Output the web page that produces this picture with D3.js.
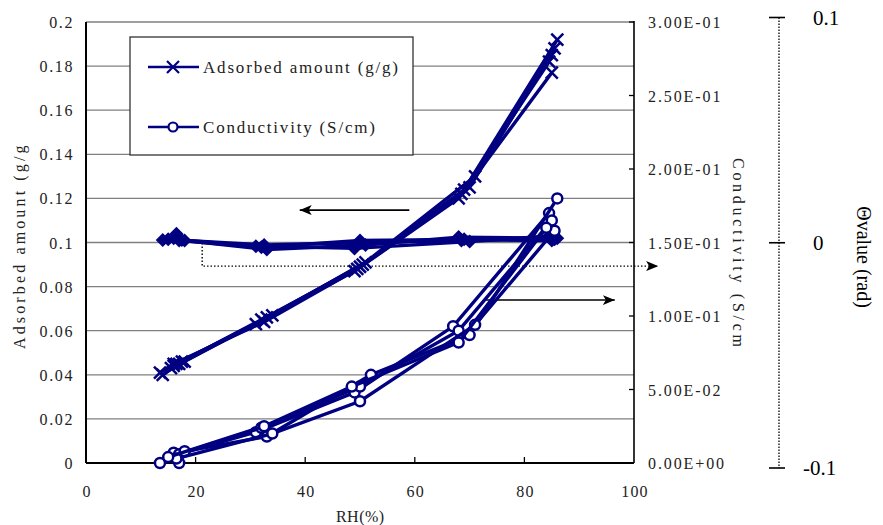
<!DOCTYPE html>
<html><head><meta charset="utf-8">
<script src="https://cdn.jsdelivr.net/npm/d3@7"></script>
<style>body{margin:0;background:#fff}svg{display:block}</style>
</head><body>
<svg id="c" width="883" height="525"></svg>
<script>
// ---- data ----
const rhTicks = [0, 20, 40, 60, 80, 100];
const leftTicks = [0, 0.02, 0.04, 0.06, 0.08, 0.1, 0.12, 0.14, 0.16, 0.18, 0.2];
const leftTickLabels = ["0", "0.02", "0.04", "0.06", "0.08", "0.1", "0.12", "0.14", "0.16", "0.18", "0.2"];
const rightTicks = [0, 0.05, 0.1, 0.15, 0.2, 0.25, 0.3];
const rightTickLabels = ["0.00E+00", "5.00E-02", "1.00E-01", "1.50E-01", "2.00E-01", "2.50E-01", "3.00E-01"];
const thetaTicks = [-0.1, 0, 0.1];
const thetaTickLabels = ["-0.1", "0", "0.1"];

// Adsorbed amount (g/g), several runs
const adsorbedRH = [
  [14, 17, 31, 49, 68, 85],
  [16, 17.5, 32, 50, 69, 86],
  [15.5, 18, 33, 50.5, 70, 85.5],
  [16.5, 34, 51, 71, 85],
  [13.5, 16, 32.5, 49.5, 68.5, 84.5]
];
const adsorbedVal = [
  [0.040, 0.045, 0.063, 0.087, 0.120, 0.185],
  [0.044, 0.046, 0.065, 0.089, 0.124, 0.192],
  [0.043, 0.046, 0.066, 0.090, 0.125, 0.188],
  [0.045, 0.067, 0.091, 0.130, 0.177],
  [0.041, 0.045, 0.064, 0.088, 0.122, 0.182]
];
// Conductivity (S/cm), several runs
const condRH = [
  [13.5, 16, 31, 49, 67, 84.5],
  [16, 17, 32, 50, 68, 85],
  [17, 18, 33, 52, 70, 86],
  [16.5, 34, 50, 71, 85.5],
  [15, 32.5, 48.5, 68, 84]
];
const condVal = [
  [0.000, 0.005, 0.021, 0.048, 0.093, 0.170],
  [0.007, 0.006, 0.024, 0.052, 0.090, 0.165],
  [0.000, 0.008, 0.018, 0.060, 0.087, 0.180],
  [0.003, 0.020, 0.042, 0.094, 0.158],
  [0.004, 0.025, 0.052, 0.082, 0.160]
];
// Theta value (rad), several runs
const thetaRH = [
  [14, 17, 32, 50, 69, 85],
  [16, 18, 33, 51, 68, 86],
  [16.5, 17.5, 31, 49, 70, 84.5],
  [15, 32.5, 50, 68.5, 85.5]
];
const thetaVal = [
  [0.0012, 0.0010, -0.0020, 0.0010, 0.0015, 0.0010],
  [0.0020, 0.0010, -0.0030, -0.0010, 0.0025, 0.0020],
  [0.0040, 0.0012, -0.0015, -0.0025, 0.0005, 0.0030],
  [0.0015, -0.0010, 0.0000, 0.0010, 0.0015]
];
// annotation arrows (data units: RH, left-axis value)
const arrowLeftRH = [59, 39], arrowLeftY = 0.1147;
const arrowRightRH = [73, 96.5], arrowRightY = 0.0739;
const dottedRH = [21.2, 21.2, 104.4], dottedY = [0.0998, 0.0893, 0.0893];

const navy = "#000080";
const svg = d3.select("#c");
const x = d3.scaleLinear().domain([0, 100]).range([86, 634]);
const yL = d3.scaleLinear().domain([0, 0.2]).range([463, 22]);
const yR = d3.scaleLinear().domain([0, 0.3]).range([463, 22]);
const yT = d3.scaleLinear().domain([-0.1, 0.1]).range([468, 17.5]);

const defs = svg.append("defs");
defs.append("marker").attr("id", "ah").attr("viewBox", "0 0 12 10").attr("refX", 12).attr("refY", 5)
  .attr("markerWidth", 12).attr("markerHeight", 10).attr("markerUnits", "userSpaceOnUse").attr("orient", "auto")
  .append("path").attr("d", "M0,0L12,5L0,10L3,5Z").attr("fill", "#000");
defs.append("clipPath").attr("id", "clipL").append("rect").attr("x", 0).attr("y", 146).attr("width", 45).attr("height", 330);
defs.append("clipPath").attr("id", "clipR").append("rect").attr("x", 720).attr("y", 100).attr("width", 40).attr("height", 246);

// gridlines
svg.append("g").selectAll("line").data(leftTicks.filter(d => d > 0)).join("line")
  .attr("x1", x(0)).attr("x2", x(100)).attr("y1", d => yL(d)).attr("y2", d => yL(d))
  .attr("stroke", "#808080").attr("stroke-width", 1.3);

// axes lines
svg.append("line").attr("x1", x(0)).attr("x2", x(0)).attr("y1", yL(0.2)).attr("y2", yL(0)).attr("stroke", "#000").attr("stroke-width", 2);
svg.append("line").attr("x1", x(0)).attr("x2", x(100)).attr("y1", yL(0)).attr("y2", yL(0)).attr("stroke", "#000").attr("stroke-width", 2);
svg.append("line").attr("x1", x(100)).attr("x2", x(100)).attr("y1", yR(0.3) - 1).attr("y2", yR(0)).attr("stroke", "#000").attr("stroke-width", 1.6);

// x ticks inward
svg.append("g").selectAll("line").data(rhTicks.slice(1, -1)).join("line")
  .attr("x1", d => x(d)).attr("x2", d => x(d)).attr("y1", yL(0)).attr("y2", yL(0) - 6).attr("stroke", "#000").attr("stroke-width", 1.3);
// right ticks inward
svg.append("g").selectAll("line").data(rightTicks).join("line")
  .attr("x1", x(100) - 5).attr("x2", x(100)).attr("y1", d => yR(d)).attr("y2", d => yR(d)).attr("stroke", "#000").attr("stroke-width", 1.3);

const tickFont = "'Liberation Serif', 'Times New Roman', 'DejaVu Serif', serif";
// left tick labels
svg.append("g").selectAll("text").data(leftTicks).join("text")
  .attr("x", 74).attr("y", d => yL(d) + 6).attr("text-anchor", "end")
  .attr("font-family", tickFont).attr("font-size", 16).style("letter-spacing", "1.6px").attr("fill", "#222")
  .text((d, i) => leftTickLabels[i]);
// right tick labels
svg.append("g").selectAll("text").data(rightTicks).join("text")
  .attr("x", 648).attr("y", d => yR(d) + 6)
  .attr("font-family", tickFont).attr("font-size", 16).style("letter-spacing", "1.9px").attr("fill", "#222")
  .text((d, i) => rightTickLabels[i]);
// x tick labels
svg.append("g").selectAll("text").data(rhTicks).join("text")
  .attr("x", d => x(d) + 1).attr("y", 497).attr("text-anchor", "middle")
  .attr("font-family", tickFont).attr("font-size", 16).style("letter-spacing", "1.2px").attr("fill", "#222")
  .text(d => d);

// axis titles
svg.append("text").attr("x", x(50)).attr("y", 522).attr("text-anchor", "middle")
  .attr("font-family", tickFont).attr("font-size", 16).attr("fill", "#222")
  .attr("textLength", 48).attr("lengthAdjust", "spacing").text("RH(%)");
svg.append("g").attr("clip-path", "url(#clipL)")
  .append("g").attr("transform", "translate(25,243) rotate(-90)")
  .append("text").attr("text-anchor", "middle")
  .attr("font-family", tickFont).attr("font-size", 16).attr("fill", "#222")
  .attr("textLength", 212).attr("lengthAdjust", "spacing").text("Adsorbed amount (g/g)");
svg.append("g").attr("clip-path", "url(#clipR)")
  .append("g").attr("transform", "translate(733,158) rotate(90)")
  .append("text").attr("text-anchor", "start")
  .attr("font-family", tickFont).attr("font-size", 16).attr("fill", "#222")
  .attr("textLength", 198).attr("lengthAdjust", "spacing").text("Conductivity (S/cm)");

// theta axis
const tx = 779;
svg.append("line").attr("x1", tx).attr("x2", tx).attr("y1", yT(0.1)).attr("y2", yT(-0.1))
  .attr("stroke", "#000").attr("stroke-width", 1.3).attr("stroke-dasharray", "1.5,1.5");
svg.append("g").selectAll("line").data(thetaTicks).join("line")
  .attr("x1", tx - 10).attr("x2", tx + 6).attr("y1", d => yT(d)).attr("y2", d => yT(d)).attr("stroke", "#000").attr("stroke-width", 1.6);
svg.append("g").selectAll("text").data(thetaTicks).join("text")
  .attr("x", (d, i) => thetaTickLabels[i].startsWith("-") ? 803 : 813).attr("y", d => yT(d) + 7)
  .attr("font-family", tickFont).attr("font-size", 21).attr("fill", "#000")
  .text((d, i) => thetaTickLabels[i]);
svg.append("g").attr("transform", "translate(864,257) rotate(90)")
  .append("text").attr("text-anchor", "middle").attr("dy", "0.35em")
  .attr("font-family", tickFont).attr("font-size", 20).attr("fill", "#000").text("Θvalue (rad)");

// annotations
svg.append("line").attr("x1", x(arrowLeftRH[0])).attr("x2", x(arrowLeftRH[1]))
  .attr("y1", yL(arrowLeftY)).attr("y2", yL(arrowLeftY)).attr("stroke", "#000").attr("stroke-width", 1.6).attr("marker-end", "url(#ah)");
svg.append("line").attr("x1", x(arrowRightRH[0])).attr("x2", x(arrowRightRH[1]))
  .attr("y1", yL(arrowRightY)).attr("y2", yL(arrowRightY)).attr("stroke", "#000").attr("stroke-width", 1.6).attr("marker-end", "url(#ah)");
svg.append("path").attr("d", d3.line()(dottedRH.map((r, i) => [x(r), yL(dottedY[i])])))
  .attr("fill", "none").attr("stroke", "#000").attr("stroke-width", 1.4).attr("stroke-dasharray", "1.5,2").attr("marker-end", "url(#ah)");

// series
const lineGen = d3.line();
const lw = 3.4;
// theta (diamonds)
thetaRH.forEach((rhs, k) => {
  const pts = rhs.map((r, i) => [x(r), yT(thetaVal[k][i])]);
  svg.append("path").attr("d", lineGen(pts)).attr("fill", "none").attr("stroke", navy).attr("stroke-width", lw);
  svg.append("g").selectAll("path").data(pts).join("path")
    .attr("d", d => `M${d[0]},${d[1] - 7}L${d[0] + 7},${d[1]}L${d[0]},${d[1] + 7}L${d[0] - 7},${d[1]}Z`)
    .attr("fill", navy);
});
// adsorbed (x markers)
adsorbedRH.forEach((rhs, k) => {
  const pts = rhs.map((r, i) => [x(r), yL(adsorbedVal[k][i])]);
  svg.append("path").attr("d", lineGen(pts)).attr("fill", "none").attr("stroke", navy).attr("stroke-width", lw);
  svg.append("g").selectAll("path").data(pts).join("path")
    .attr("d", d => `M${d[0] - 6},${d[1] - 6}L${d[0] + 6},${d[1] + 6}M${d[0] - 6},${d[1] + 6}L${d[0] + 6},${d[1] - 6}`)
    .attr("stroke", navy).attr("stroke-width", 2.5).attr("fill", "none");
});
// conductivity (circles)
condRH.forEach((rhs, k) => {
  const pts = rhs.map((r, i) => [x(r), yR(condVal[k][i])]);
  svg.append("path").attr("d", lineGen(pts)).attr("fill", "none").attr("stroke", navy).attr("stroke-width", lw);
  svg.append("g").selectAll("circle").data(pts).join("circle")
    .attr("cx", d => d[0]).attr("cy", d => d[1]).attr("r", 5)
    .attr("stroke", navy).attr("stroke-width", 2.5).attr("fill", "#fff");
});

// legend
const lg = svg.append("g");
lg.append("rect").attr("x", 130).attr("y", 37).attr("width", 283).attr("height", 118)
  .attr("fill", "#fff").attr("stroke", "#333").attr("stroke-width", 1.3);
const legendItems = ["Adsorbed amount (g/g)", "Conductivity (S/cm)"];
const legendWidths = [195, 172];
legendItems.forEach((lab, i) => {
  const cy = 67 + i * 60;
  lg.append("line").attr("x1", 148).attr("x2", 199).attr("y1", cy).attr("y2", cy).attr("stroke", navy).attr("stroke-width", 2.4);
  if (i === 0) {
    lg.append("path").attr("d", `M167,${cy - 6}L179,${cy + 6}M167,${cy + 6}L179,${cy - 6}`).attr("stroke", navy).attr("stroke-width", 2.2);
  } else {
    lg.append("circle").attr("cx", 173).attr("cy", cy).attr("r", 4.5).attr("fill", "#fff").attr("stroke", navy).attr("stroke-width", 2.2);
  }
  lg.append("text").attr("x", 203).attr("y", cy + 6)
    .attr("font-family", tickFont).attr("font-size", 17).attr("fill", "#222")
    .attr("textLength", legendWidths[i]).attr("lengthAdjust", "spacing").text(lab);
});
</script>
</body></html>
